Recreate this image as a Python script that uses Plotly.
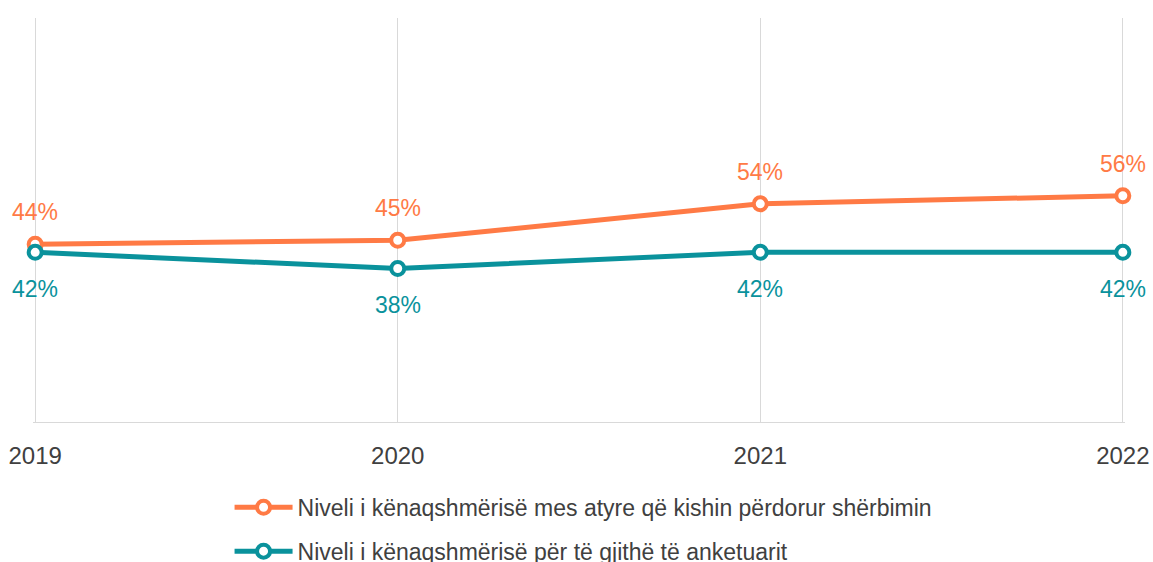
import plotly.graph_objects as go

# Survey years and satisfaction levels (%)
years = [2019, 2020, 2021, 2022]
users_satisfaction = [44, 45, 54, 56]
all_respondents = [42, 38, 42, 42]

series_names = [
    "Niveli i kënaqshmërisë mes atyre që kishin përdorur shërbimin",
    "Niveli i kënaqshmërisë për të gjithë të anketuarit",
]

ORANGE = "#FF7A45"
TEAL = "#0A929C"
FONT = "Liberation Sans, Arial, sans-serif"

fig = go.Figure()

for vals, name, color, grp in [
    (users_satisfaction, series_names[0], ORANGE, "a"),
    (all_respondents, series_names[1], TEAL, "b"),
]:
    fig.add_trace(go.Scatter(
        x=years, y=vals, name=name,
        mode="lines+markers",
        line=dict(color=color, width=5),
        marker=dict(size=13, color="white", line=dict(color=color, width=4)),
        cliponaxis=False, legendgroup=grp,
    ))

# value labels: above the orange series, below the teal one
for yr, v in zip(years, users_satisfaction):
    fig.add_annotation(x=yr, y=v, text=f"{v}%", showarrow=False, yshift=32,
                       font=dict(size=23, color=ORANGE, family=FONT))
for yr, v in zip(years, all_respondents):
    fig.add_annotation(x=yr, y=v, text=f"{v}%", showarrow=False, yshift=-37,
                       font=dict(size=23, color=TEAL, family=FONT))

fig.update_layout(
    width=1153, height=562,
    margin=dict(l=33, r=28, t=18, b=140, autoexpand=False),
    plot_bgcolor="white", paper_bgcolor="white",
    font=dict(family=FONT, color="#404040", size=23),
    showlegend=True,
    legend=dict(
        orientation="v", x=0.18, xanchor="left", y=-0.158, yanchor="top",
        font=dict(size=23, color="#404040", family=FONT),
        tracegroupgap=11, itemwidth=58,
        bgcolor="rgba(0,0,0,0)",
    ),
    xaxis=dict(
        type="linear", range=[2018.994, 2022.006],
        tickvals=years, ticktext=[str(y) for y in years],
        showgrid=True, gridcolor="#D9D9D9", gridwidth=1,
        showline=True, linecolor="#D9D9D9", linewidth=1,
        ticks="", tickfont=dict(size=24, color="#404040", family=FONT),
        ticklabelstandoff=12,
        zeroline=False,
    ),
    yaxis=dict(
        range=[0, 100], visible=False, showgrid=False, zeroline=False,
    ),
)

fig.write_html("out.html")
